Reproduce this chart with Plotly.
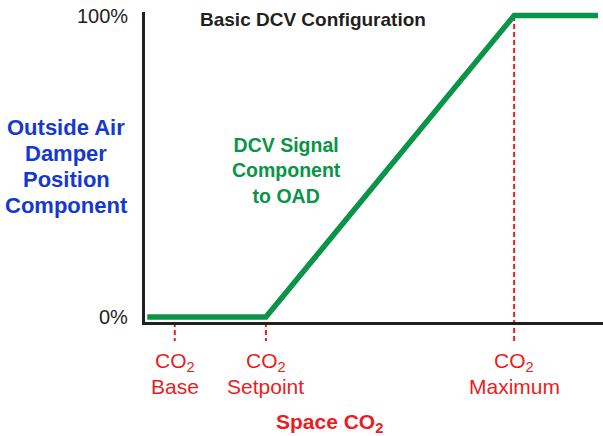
import plotly.graph_objects as go

# ---- data ----
co2_points = [0.5, 26.4, 80.6, 98.9]        # space CO2 (relative scale)
damper_pct = [0, 0, 100, 100]                # outside air damper position %
marker_names = ["Base", "Setpoint", "Maximum"]
marker_x = [6.5, 26.4, 80.6]
y_tick_vals = [0, 100]
y_tick_text = ["0%", "100%"]

W, H = 603, 436
L, R, T, B = 145, 0, 12, 114
plot_h = H - T - B

def py(pix):
    """pixel y (from top) -> paper y"""
    return (H - B - pix) / plot_h

FONT = "Liberation Sans, Arial, Helvetica, sans-serif"
RED = "#ec1c24"
GREEN = "#0a9447"
BLUE = "#1438d2"
DARK = "#231f20"

fig = go.Figure()
fig.add_trace(go.Scatter(
    x=co2_points, y=damper_pct, mode="lines",
    line=dict(color=GREEN, width=5.5), hoverinfo="skip", showlegend=False,
))

shapes = []
for name, xv in zip(marker_names, marker_x):
    top = py(16) if name == "Maximum" else 0
    shapes.append(dict(type="line", xref="x", yref="paper", x0=xv, x1=xv,
                       y0=top, y1=py(341), line=dict(color=RED, width=2, dash="5px,3px"),
                       layer="below"))

annotations = []
# y tick labels
for v, t in zip(y_tick_vals, y_tick_text):
    annotations.append(dict(x=0, xref="paper", xanchor="right", xshift=-15,
                            y=v, yref="y", yanchor="middle", text=t, showarrow=False,
                            font=dict(family=FONT, size=20, color=DARK)))
# marker labels
for name, xv in zip(marker_names, marker_x):
    annotations.append(dict(x=xv, xref="x", y=py(362), yref="paper", xanchor="center",
                            yanchor="middle", text="CO<sub>2</sub>", showarrow=False,
                            font=dict(family=FONT, size=21, color=RED)))
    annotations.append(dict(x=xv, xref="x", y=py(386), yref="paper", xanchor="center",
                            yanchor="middle", text=name, showarrow=False,
                            font=dict(family=FONT, size=21, color=RED)))
# x axis title
annotations.append(dict(x=40.3, xref="x", y=py(423), yref="paper", xanchor="center",
                        yanchor="middle", text="<b>Space CO<sub>2</sub></b>", showarrow=False,
                        font=dict(family=FONT, size=21, color=RED)))
# y axis title lines
for i, line in enumerate(["Outside Air", "Damper", "Position", "Component"]):
    annotations.append(dict(x=0, xref="paper", xanchor="center", xshift=66 - L,
                            y=py(128 + i * 25.7), yref="paper", yanchor="middle",
                            text="<b>%s</b>" % line, showarrow=False,
                            font=dict(family=FONT, size=22, color=BLUE)))
# title
annotations.append(dict(x=0, xref="paper", xanchor="left", xshift=198 - L,
                        y=py(20), yref="paper", yanchor="middle",
                        text="<b>Basic DCV Configuration</b>", showarrow=False,
                        font=dict(family=FONT, size=19, color=DARK)))
# green label
annotations.append(dict(x=30.8, xref="x", xanchor="center",
                        y=py(170), yref="paper", yanchor="middle",
                        text="<b>DCV Signal<br>Component<br>to OAD</b>", showarrow=False,
                        font=dict(family=FONT, size=19.5, color=GREEN)))

fig.update_layout(
    width=W, height=H, margin=dict(l=L, r=R, t=T, b=B),
    paper_bgcolor="white", plot_bgcolor="white",
    xaxis=dict(range=[0, 100], showgrid=False, zeroline=False, showticklabels=False,
               ticks="", showline=True, linecolor=DARK, linewidth=3, fixedrange=True),
    yaxis=dict(range=[-1.66, 101.16], showgrid=False, zeroline=False, showticklabels=False,
               ticks="", showline=True, linecolor=DARK, linewidth=3, fixedrange=True),
    shapes=shapes, annotations=annotations, showlegend=False,
)

fig.write_html("out.html", config={"displayModeBar": False},
               post_script="document.body.style.margin='0';document.body.style.overflow='hidden';")
